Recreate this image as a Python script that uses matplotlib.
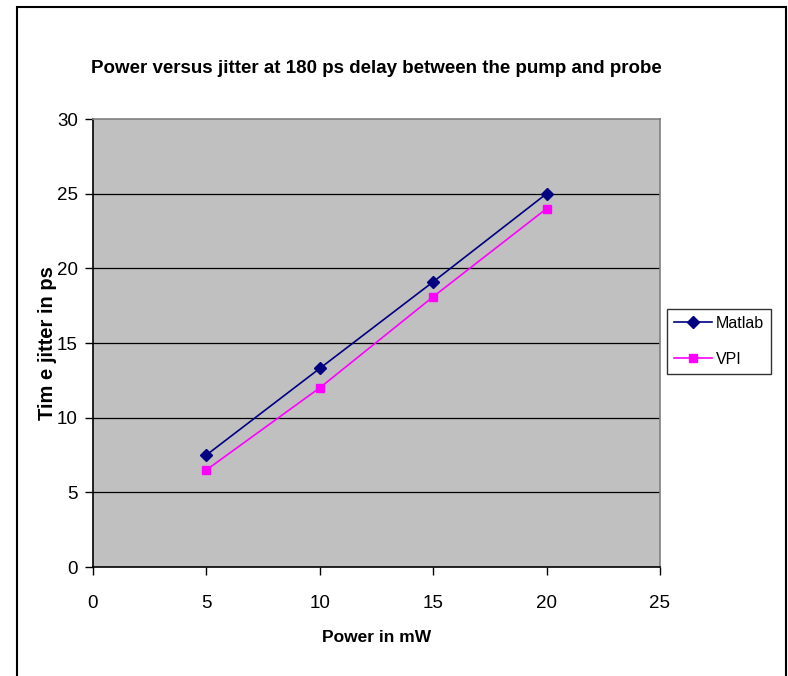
import matplotlib
matplotlib.use("Agg")
from matplotlib import pyplot as plt
from matplotlib.patches import Rectangle

plt.rcParams['font.family'] = ['Liberation Sans', 'DejaVu Sans']

power_mw = [5, 10, 15, 20]
matlab_jitter = [7.5, 13.3, 19.1, 25.0]
vpi_jitter = [6.5, 12.0, 18.1, 24.0]

x_ticks = [0, 5, 10, 15, 20, 25]
y_ticks = [0, 5, 10, 15, 20, 25, 30]

fig = plt.figure(figsize=(7.88, 6.76), dpi=100)
fig.patch.set_facecolor('white')

# chart frame (open at the bottom edge)
fig.add_artist(Rectangle((17 / 788, -0.01), (786 - 17) / 788, (676 - 7) / 676 + 0.01,
                         transform=fig.transFigure, fill=False,
                         edgecolor='black', linewidth=1.5))

ax = fig.add_axes([93 / 788, 1 - 567 / 676, (660 - 93) / 788, (567 - 119) / 676])
ax.set_facecolor('#C0C0C0')

for y in y_ticks[1:-1]:
    ax.axhline(y, color='black', linewidth=0.9, zorder=1)

ax.plot(power_mw, matlab_jitter, color='#000080', marker='D', markersize=6,
        linewidth=1.2, label='Matlab', zorder=3)
ax.plot(power_mw, vpi_jitter, color='#FF00FF', marker='s', markersize=6,
        linewidth=1.2, label='VPI', zorder=3)

ax.set_xlim(0, 25)
ax.set_ylim(0, 30)
ax.set_xticks(x_ticks)
ax.set_yticks(y_ticks)
ax.tick_params(direction='out', length=6, width=1, labelsize=13.5, colors='black')
ax.tick_params(axis='x', pad=14)
ax.tick_params(axis='y', pad=5)

ax.spines['left'].set_color('black')
ax.spines['bottom'].set_color('black')
ax.spines['top'].set_color('#808080')
ax.spines['right'].set_color('#808080')
for s in ax.spines.values():
    s.set_linewidth(1.2)

ax.set_title('Power versus jitter at 180 ps delay between the pump and probe',
             fontsize=13.5, fontweight='bold', pad=33)
ax.set_xlabel('Power in mW', fontsize=12.5, fontweight='bold', labelpad=13)
ax.set_ylabel('Tim e jitter in ps', fontsize=14.5, fontweight='bold', labelpad=0)

leg = ax.legend(loc='center left', bbox_to_anchor=(1.0123, 0.504), fontsize=11.5,
                frameon=True, fancybox=False, edgecolor='black',
                handlelength=2.4, borderpad=0.45, labelspacing=1.3,
                handletextpad=0.2, borderaxespad=0)
leg.get_frame().set_linewidth(1.0)

fig.savefig('out.png', dpi=100)
